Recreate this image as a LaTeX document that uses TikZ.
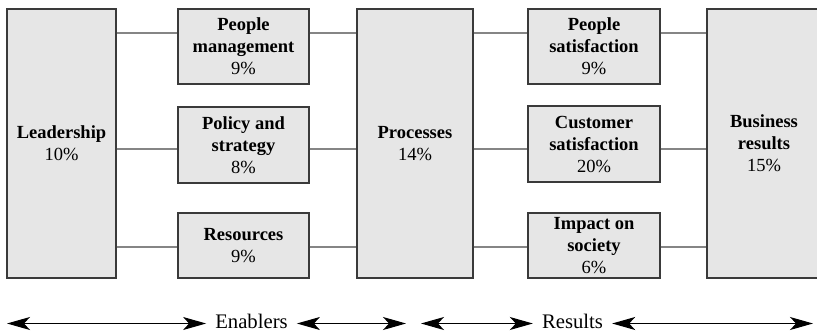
\documentclass[tikz,border=0pt]{standalone}
\usepackage{fontspec}
\setmainfont{Liberation Serif}
\usetikzlibrary{arrows.meta}
\definecolor{boxfill}{HTML}{E6E6E6}
\definecolor{boxline}{HTML}{3A3A3A}
\definecolor{linkgray}{HTML}{858585}
\tikzset{>=Stealth,
  every node/.style={font=\fontsize{18.5}{22}\selectfont},
  crit/.style={draw=boxline,fill=boxfill,line width=1.2pt,align=center,inner sep=0pt},
  tall/.style={crit,minimum height=269pt},
  part/.style={crit,minimum width=131pt},
  link/.style={draw=linkgray,line width=1.2pt},
  spanarrow/.style={{Stealth[length=23pt,width=13pt,inset=6pt]}-{Stealth[length=23pt,width=13pt,inset=6pt]},line width=1.1pt},
  grp/.style={font=\fontsize{20.7}{24}\selectfont,anchor=base,inner xsep=9pt,inner ysep=0pt}}

\begin{document}
\begin{tikzpicture}[x=1pt,y=-1pt]
\clip (0,0) rectangle (817,332);
\node[tall,minimum width=109pt] (lead) at (61.5,143.5) {\textbf{Leadership}\\10\%};
\node[part,minimum height=75pt] (peoplemgmt) at (243.5,46.5) {\textbf{People}\\\textbf{management}\\9\%};
\node[part,minimum height=76pt] (policy) at (243.5,145) {\textbf{Policy and}\\\textbf{strategy}\\8\%};
\node[part,minimum height=65pt] (resources) at (243.5,245.5) {\textbf{Resources}\\9\%};
\node[tall,minimum width=116pt] (processes) at (415,143.5) {\textbf{Processes}\\14\%};
\node[part,minimum width=132pt,minimum height=75pt] (peoplesat) at (594,46.5) {\textbf{People}\\\textbf{satisfaction}\\9\%};
\node[part,minimum width=132pt,minimum height=76pt] (custsat) at (594,144) {\textbf{Customer}\\\textbf{satisfaction}\\20\%};
\node[part,minimum width=132pt,minimum height=65pt] (society) at (594,245.5) {\textbf{Impact on}\\\textbf{society}\\6\%};
\node[tall,minimum width=114pt] (business) at (764,143.5) {\textbf{Business}\\\textbf{results}\\15\%};
% connector rows
\coordinate (row1) at (0,33);
\coordinate (row2) at (0,149);
\coordinate (row3) at (0,247);
\foreach \a/\b/\r in {lead/peoplemgmt/row1,lead/policy/row2,lead/resources/row3,
  peoplemgmt/processes/row1,policy/processes/row2,resources/processes/row3,
  processes/peoplesat/row1,processes/custsat/row2,processes/society/row3,
  peoplesat/business/row1,custsat/business/row2,society/business/row3}
  \draw[link] (\a.east |- \r) -- (\b.west |- \r);
% bottom arrows
\node[grp] (enab) at (251.5,328) {Enablers};
\node[grp] (resl) at (572.5,328) {Results};
\coordinate (a0) at (7,323.5);
\coordinate (a1) at (406,323.5);
\coordinate (a2) at (421,323.5);
\coordinate (a3) at (813,323.5);
\draw[spanarrow] (a0) -- (a0 -| enab.west);
\draw[spanarrow] (a0 -| enab.east) -- (a1);
\draw[spanarrow] (a2) -- (a2 -| resl.west);
\draw[spanarrow] (a2 -| resl.east) -- (a3);
\end{tikzpicture}
\end{document}
